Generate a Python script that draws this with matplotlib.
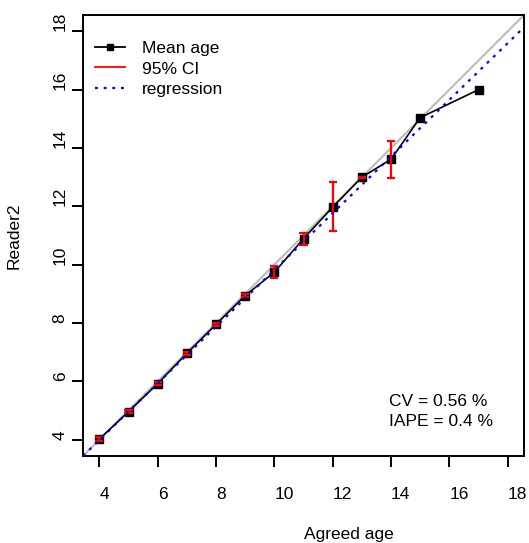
import numpy as np
import matplotlib
matplotlib.use("Agg")
from matplotlib import pyplot as plt

plt.rcParams['font.family'] = ['Liberation Sans', 'DejaVu Sans']

# dados
agreed_age = [4, 5, 6, 7, 8, 9, 10, 11, 12, 13, 14, 15, 17]
mean_age = [4.02, 4.96, 5.92, 6.96, 7.95, 8.94, 9.74, 10.89, 11.97, 13.0, 13.61, 15.04, 16.0]
ci_low = [3.95, 4.90, 5.86, 6.91, 7.90, 8.88, 9.55, 10.69, 11.17, 12.98, 12.98, np.nan, np.nan]
ci_high = [4.08, 5.02, 5.98, 7.01, 8.00, 9.00, 9.94, 11.09, 12.82, 13.02, 14.23, np.nan, np.nan]
reg_intercept = 0.10
reg_slope = 0.972
ticks = [4, 6, 8, 10, 12, 14, 16, 18]
cv_txt = "CV = 0.56 %"
iape_txt = "IAPE = 0.4 %"

W, H = 529, 543
fig = plt.figure(figsize=(W / 100, H / 100), dpi=100)
# caixa do grafico em pixels: (83,15) ate (524,456)
ax = fig.add_axes([83 / W, 1 - 456 / H, 441 / W, 441 / H])

lims = (3.44, 18.56)
ax.set_xlim(lims)
ax.set_ylim(lims)

# linha 1:1
ax.plot(lims, lims, color='#BEBEBE', lw=1.6, zorder=1)

# media
ax.plot(agreed_age, mean_age, color='black', lw=1.2, marker='s', ms=5.5, zorder=2)

# intervalos de confianca
x = np.array(agreed_age, dtype=float)
lo = np.array(ci_low)
hi = np.array(ci_high)
ok = ~np.isnan(lo)
ax.vlines(x[ok], lo[ok], hi[ok], color='red', lw=1.6, zorder=3)
ax.hlines(lo[ok], x[ok] - 0.14, x[ok] + 0.14, color='red', lw=1.6, zorder=3)
ax.hlines(hi[ok], x[ok] - 0.14, x[ok] + 0.14, color='red', lw=1.6, zorder=3)

# regressao
xr = np.array(lims)
ax.plot(xr, reg_intercept + reg_slope * xr, color='blue', lw=1.6,
        dashes=(1.3, 2.6), zorder=4)

# legenda
h1, = ax.plot([], [], color='black', lw=1.3, marker='s', ms=4.5)
h2, = ax.plot([], [], color='red', lw=1.3)
h3, = ax.plot([], [], color='blue', lw=1.6, dashes=(1.3, 2.6))
ax.legend([h1, h2, h3], ['Mean age', '95% CI', 'regression'],
          loc='upper left', bbox_to_anchor=(12 / 441, 1 - 26 / 441),
          frameon=False, fontsize=12.5, handlelength=1.75, handletextpad=0.95,
          labelspacing=0.3, borderpad=0, borderaxespad=0)

ax.text(389 / W, 1 - 402 / H, cv_txt, transform=fig.transFigure,
        fontsize=12.5, ha='left', va='center')
ax.text(389 / W, 1 - 422 / H, iape_txt, transform=fig.transFigure,
        fontsize=12.5, ha='left', va='center')

# eixos
ax.set_xticks(ticks)
ax.set_yticks(ticks)
ax.set_xticklabels([str(t) for t in ticks])
ax.set_yticklabels([str(t) for t in ticks])
for s in ax.spines.values():
    s.set_linewidth(1.4)
ax.tick_params(axis='both', length=8, width=1.4, labelsize=12.5)
ax.tick_params(axis='x', pad=14)
ax.tick_params(axis='y', pad=3, labelrotation=90)
for t in ax.get_xticklabels():
    t.set_ha('left')
for t in ax.get_yticklabels():
    t.set_va('bottom')
    t.set_ha('right')

fig.text(303.5 / W, 1 - 535 / H, 'Agreed age', fontsize=12.5, ha='left', va='center')
fig.text(14 / W, 1 - 235.5 / H, 'Reader2', fontsize=12.5, rotation=90,
         ha='center', va='center')

fig.savefig('out.png', dpi=100)
